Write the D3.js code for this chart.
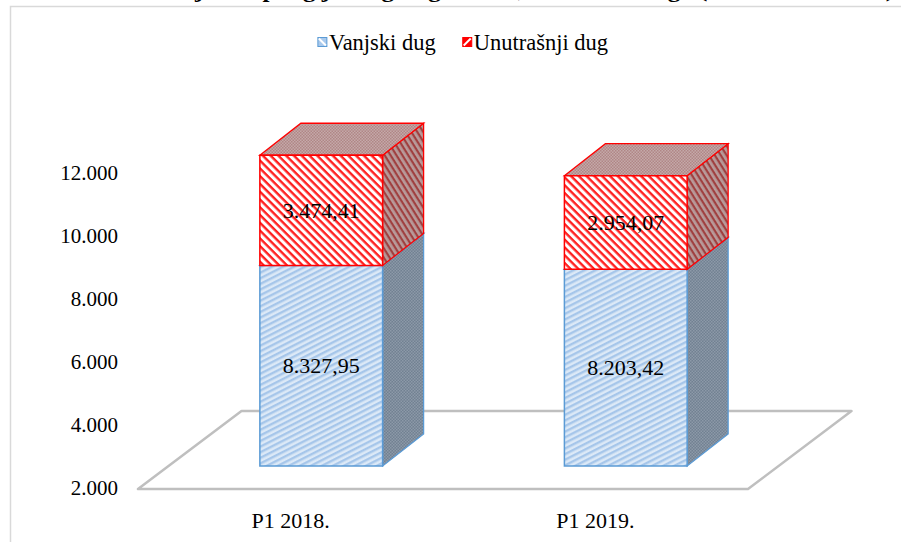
<!DOCTYPE html>
<html>
<head>
<meta charset="utf-8">
<script src="https://cdn.jsdelivr.net/npm/d3@7"></script>
<style>
    body { margin: 0; background: #ffffff; }
    svg { display: block; }
    svg text { font-family: "Liberation Serif", "Times New Roman", serif; }
</style>
</head>
<body>
<svg></svg>
<script>
// Chart data
let categories = ['P1 2018.', 'P1 2019.'];
let seriesNames = ['Vanjski dug', 'Unutrašnji dug'];
let vanjskiDug = [8327.95, 8203.42];
let unutrasnjiDug = [3474.41, 2954.07];
let yTicks = [2000, 4000, 6000, 8000, 10000, 12000];
let title = 'Grafikon 1: Stanje ukupnog javnog duga FBiH, struktura duga (u milionima KM)';

// SVG dimensions
let width = 901, height = 542;

// 3D look: depth of a bar and of the floor
let depthX = 41, depthY = -32;
let floorFront = { dx: -30.5, dy: 23 }, floorBack = { dx: 73, dy: -55 };

let svg = d3.select('svg').attr('width', width).attr('height', height);

// Bosnian number format: 8.327,95
let locale = d3.formatLocale({ decimal: ',', thousands: '.', grouping: [3], currency: ['', ' KM'] });
let fmtTick = locale.format(',.0f');
let fmtValue = locale.format(',.2f');

// Scales
let xScale = d3.scaleBand()
    .domain(categories)
    .range([168.5, 778.5])
    .paddingInner(0.597)
    .paddingOuter(0.3);

// front plane of the bars
let yBar = d3.scaleLinear().domain([2000, 12000]).range([466, 149]);
// plane of the axis labels (front edge of the floor)
let yAxisScale = d3.scaleLinear().domain([2000, 12000]).range([488, 173]);

// Patterns for the hatched faces
let defs = svg.append('defs');

function stripes(id, angle, size, bg, fg, band) {
    let p = defs.append('pattern')
        .attr('id', id)
        .attr('patternUnits', 'userSpaceOnUse')
        .attr('width', 10)
        .attr('height', size)
        .attr('patternTransform', `rotate(${angle})`);
    p.append('rect').attr('width', 10).attr('height', size).attr('fill', bg);
    p.append('rect').attr('width', 10).attr('height', band).attr('fill', fg);
}

function checker(id, a, b) {
    let p = defs.append('pattern')
        .attr('id', id)
        .attr('patternUnits', 'userSpaceOnUse')
        .attr('width', 3)
        .attr('height', 3);
    p.append('rect').attr('width', 3).attr('height', 3).attr('fill', a);
    p.append('rect').attr('width', 1.5).attr('height', 1.5).attr('fill', b);
    p.append('rect').attr('x', 1.5).attr('y', 1.5).attr('width', 1.5).attr('height', 1.5).attr('fill', b);
}

stripes('blueFront', -27, 5, '#dce9f7', '#a6c6ea', 2.4);
stripes('redFront', 45, 5.5, '#ffffff', '#ff2020', 2.4);
stripes('redSide', 58, 5, '#b89a9a', '#a04040', 2.2);
checker('blueSide', '#718192', '#8c99a8');
checker('redTop', '#c4a9a9', '#b08686');

// Chart area border (only the left and top edges are inside the picture)
svg.append('path')
    .attr('d', `M10.5,${height} V6.5 H${width}`)
    .attr('fill', 'none')
    .attr('stroke', '#d9d9d9')
    .attr('stroke-width', 1.5);

// Title, mostly cut off at the top
svg.append('text')
    .attr('x', 454)
    .attr('y', -3)
    .attr('text-anchor', 'middle')
    .attr('font-weight', 'bold')
    .attr('font-size', 20)
    .attr('textLength', 880)
    .attr('lengthAdjust', 'spacingAndGlyphs')
    .attr('fill', '#000')
    .text(title);

// Floor of the 3D plot
function drawFloor() {
    let r = xScale.range();
    let y0 = yBar(2000);
    let pts = [
        [r[0] + floorFront.dx, y0 + floorFront.dy],
        [r[1] + floorFront.dx, y0 + floorFront.dy],
        [r[1] + floorBack.dx, y0 + floorBack.dy],
        [r[0] + floorBack.dx, y0 + floorBack.dy]
    ];
    svg.append('polygon')
        .attr('points', pts.map(p => p.join(',')).join(' '))
        .attr('fill', '#ffffff')
        .attr('stroke', '#bfbfbf')
        .attr('stroke-width', 2.5)
        .attr('stroke-linejoin', 'round');
}

// Value axis (labels only)
function drawAxis() {
    let yAxis = d3.axisLeft(yAxisScale)
        .tickValues(yTicks)
        .tickFormat(fmtTick)
        .tickSize(0)
        .tickPadding(0);
    let g = svg.append('g')
        .attr('transform', 'translate(118, 0)')
        .call(yAxis);
    g.select('.domain').remove();
    g.attr('font-family', null);
    g.selectAll('text')
        .attr('font-size', 21)
        .attr('fill', '#000');
}

// Stacked 3D bars
function drawBars() {
    let w = xScale.bandwidth();
    let stackData = categories.map((c, i) => ({
        cat: c,
        segs: [
            { name: seriesNames[0], v0: 0, v1: vanjskiDug[i], value: vanjskiDug[i] },
            { name: seriesNames[1], v0: vanjskiDug[i], v1: vanjskiDug[i] + unutrasnjiDug[i], value: unutrasnjiDug[i] }
        ]
    }));

    let styles = [
        { front: 'url(#blueFront)', side: 'url(#blueSide)', top: '#9fb6cf', stroke: '#5b9bd5' },
        { front: 'url(#redFront)', side: 'url(#redSide)', top: 'url(#redTop)', stroke: '#ff0000' }
    ];

    let poly = pts => pts.map(p => p.join(',')).join(' ');

    let bars = svg.selectAll('g.bar')
        .data(stackData)
        .enter()
        .append('g')
        .attr('class', 'bar');

    bars.each(function (d) {
        let g = d3.select(this);
        let x = xScale(d.cat);
        d.segs.forEach((s, k) => {
            let st = styles[k];
            let yt = yBar(s.v1);
            let yb = yBar(Math.max(2000, s.v0));
            let side = [[x + w, yt], [x + w + depthX, yt + depthY], [x + w + depthX, yb + depthY], [x + w, yb]];
            let top = [[x, yt], [x + depthX, yt + depthY], [x + w + depthX, yt + depthY], [x + w, yt]];
            let front = [[x, yt], [x + w, yt], [x + w, yb], [x, yb]];
            g.append('polygon').attr('points', poly(side))
                .attr('fill', st.side).attr('stroke', st.stroke).attr('stroke-width', 1.3);
            g.append('polygon').attr('points', poly(top))
                .attr('fill', st.top).attr('stroke', st.stroke).attr('stroke-width', 1.3);
            g.append('polygon').attr('points', poly(front))
                .attr('fill', st.front).attr('stroke', st.stroke).attr('stroke-width', 1.5);
            g.append('text')
                .attr('x', x + w / 2)
                .attr('y', (yt + yb) / 2)
                .attr('dy', '0.35em')
                .attr('text-anchor', 'middle')
                .attr('font-size', 22)
                .attr('fill', '#000')
                .text(fmtValue(s.value));
        });
    });
}

// Category labels under the floor
function drawCategoryLabels() {
    svg.selectAll('text.cat')
        .data(categories)
        .enter()
        .append('text')
        .attr('class', 'cat')
        .attr('x', d => xScale(d) + xScale.bandwidth() / 2 + floorFront.dx)
        .attr('y', 520)
        .attr('dy', '0.35em')
        .attr('text-anchor', 'middle')
        .attr('font-size', 22)
        .attr('fill', '#000')
        .text(d => d);
}

// Legend at the top
function drawLegend() {
    let legend = svg.append('g');
    let icons = [
        { fill: '#a9c9ec', stroke: '#5b9bd5', diag: 'M1,1 L8,8' },
        { fill: '#ff0000', stroke: '#ff0000', diag: 'M8,1 L1,8' }
    ];
    let x = 0;
    seriesNames.forEach((name, i) => {
        let item = legend.append('g').attr('transform', `translate(${x}, 0)`);
        item.append('rect')
            .attr('x', 0).attr('y', -4.5)
            .attr('width', 9).attr('height', 9)
            .attr('fill', icons[i].fill)
            .attr('stroke', icons[i].stroke)
            .attr('stroke-width', 1);
        item.append('path')
            .attr('d', icons[i].diag)
            .attr('transform', 'translate(0,-4.5)')
            .attr('stroke', '#ffffff')
            .attr('stroke-width', 2);
        let t = item.append('text')
            .attr('x', 11)
            .attr('dy', '0.35em')
            .attr('font-size', 22.5)
            .attr('fill', '#000')
            .text(name);
        x += 11 + t.node().getComputedTextLength() + 27;
    });
    let total = x - 27;
    legend.attr('transform', `translate(${463 - total / 2}, 42)`);
}

drawFloor();
drawAxis();
drawBars();
drawCategoryLabels();
drawLegend();
</script>
</body>
</html>
